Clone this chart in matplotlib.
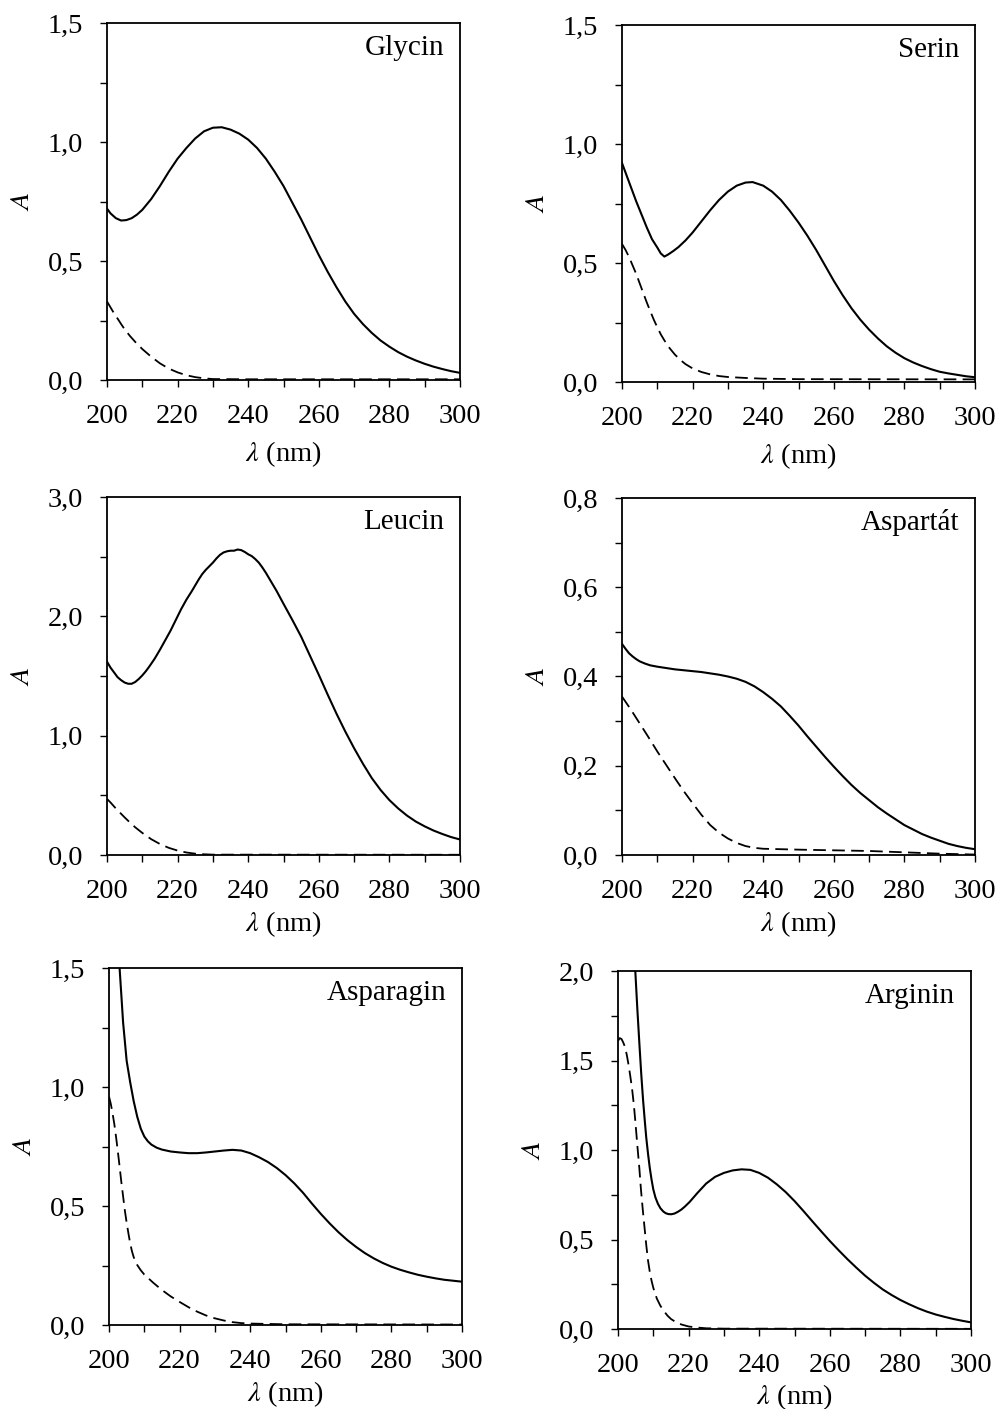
import numpy as np
import matplotlib
matplotlib.use("Agg")
import matplotlib.pyplot as plt
from matplotlib.ticker import MultipleLocator, FuncFormatter

plt.rcParams['font.family'] = ['Liberation Serif', 'DejaVu Serif']
plt.rcParams['mathtext.fontset'] = 'stix'

# --- data (wavelength nm, absorbance) ---
gly_x = [200, 201, 202.5, 204, 205.5, 207, 208.5, 210, 212.5, 215, 217.5, 220, 222.5, 225, 227.5, 230, 232.5,
         235, 237.5, 240, 242.5, 245, 247.5, 250, 252.5, 255, 257.5, 260, 262.5, 265, 267.5, 270, 272.5,
         275, 277.5, 280, 282.5, 285, 287.5, 290, 292.5, 295, 297.5, 300]
gly_y = [0.72, 0.70, 0.68, 0.67, 0.672, 0.68, 0.695, 0.715, 0.76, 0.815, 0.875, 0.93, 0.975, 1.015, 1.045,
         1.06, 1.062, 1.052, 1.035, 1.01, 0.975, 0.93, 0.875, 0.815, 0.745, 0.675, 0.6, 0.525, 0.455, 0.39,
         0.33, 0.278, 0.235, 0.198, 0.166, 0.14, 0.117, 0.098, 0.082, 0.068, 0.056, 0.046, 0.037, 0.03]
gly_ref_x = [200, 201, 202, 203, 204, 205, 206.5, 208, 210, 212.5, 215, 217.5, 220, 222.5, 225, 227.5, 230,
             240, 300]
gly_ref_y = [0.33, 0.305, 0.28, 0.258, 0.235, 0.213, 0.185, 0.16, 0.13, 0.098, 0.07, 0.048, 0.032, 0.02,
             0.012, 0.007, 0.004, 0.003, 0.003]

ser_x = [200, 201, 202.5, 204, 205.5, 207, 208.5, 210, 211, 212, 213, 214.5, 216, 218, 220, 222.5, 225,
         227.5, 230, 232.5, 235, 237, 240, 242.5, 245, 247.5, 250, 252.5, 255, 257.5, 260, 262.5, 265, 267.5,
         270, 272.5, 275, 277.5, 280, 282.5, 285, 287.5, 290, 292.5, 295, 297.5, 300]
ser_y = [0.92, 0.88, 0.82, 0.76, 0.705, 0.65, 0.60, 0.565, 0.54, 0.527, 0.535, 0.55, 0.567, 0.595, 0.628,
         0.675, 0.722, 0.765, 0.80, 0.825, 0.838, 0.84, 0.825, 0.80, 0.765, 0.72, 0.67, 0.615, 0.555, 0.49,
         0.425, 0.365, 0.31, 0.262, 0.22, 0.183, 0.15, 0.123, 0.10, 0.082, 0.067, 0.054, 0.043, 0.036, 0.03,
         0.024, 0.02]
ser_ref_x = [200, 201, 202, 203, 204, 205, 206, 207, 208, 209, 210, 211, 212, 213.5, 215, 216.5, 218, 220,
             222.5, 225, 227.5, 230, 235, 240, 250, 300]
ser_ref_y = [0.58, 0.555, 0.525, 0.49, 0.455, 0.415, 0.375, 0.335, 0.298, 0.262, 0.23, 0.2, 0.175, 0.142,
             0.115, 0.093, 0.075, 0.057, 0.042, 0.032, 0.025, 0.021, 0.017, 0.014, 0.012, 0.011]

leu_x = [200, 201, 202, 203, 204, 205, 206, 207, 208, 209, 210, 211, 212, 213.5, 215, 216.5, 218, 219.5,
         221, 222.5, 224, 225, 226, 227, 228, 229, 230, 231, 232, 233, 234, 235, 236, 237, 238, 239, 240,
         241, 242, 243, 244, 245, 246, 247, 248, 249, 250, 252.5, 255, 257.5, 260, 262.5, 265, 267.5, 270,
         272.5, 275, 277.5, 280, 282.5, 285, 287.5, 290, 292.5, 295, 297.5, 300]
leu_y = [1.62, 1.57, 1.53, 1.49, 1.465, 1.445, 1.435, 1.435, 1.45, 1.475, 1.505, 1.54, 1.58, 1.645, 1.72,
         1.80, 1.88, 1.97, 2.06, 2.14, 2.21, 2.26, 2.31, 2.355, 2.39, 2.42, 2.45, 2.485, 2.515, 2.535, 2.545,
         2.55, 2.55, 2.56, 2.555, 2.54, 2.52, 2.505, 2.48, 2.45, 2.41, 2.365, 2.315, 2.265, 2.215, 2.16, 2.105,
         1.97, 1.83, 1.67, 1.51, 1.345, 1.185, 1.035, 0.895, 0.765, 0.645, 0.545, 0.46, 0.39, 0.33, 0.28,
         0.24, 0.205, 0.176, 0.15, 0.13]
leu_ref_x = [200, 201, 202.5, 204, 205, 206.5, 208, 210, 212.5, 215, 217.5, 220, 222.5, 225, 227.5, 230, 300]
leu_ref_y = [0.47, 0.44, 0.39, 0.345, 0.315, 0.272, 0.232, 0.185, 0.133, 0.092, 0.06, 0.037, 0.021, 0.011,
             0.006, 0.003, 0.002]

asp_x = [200, 201, 202, 203, 204, 205, 206.5, 208, 210, 212.5, 215, 217.5, 220, 222.5, 225, 227.5, 230,
         232.5, 235, 237.5, 240, 242.5, 245, 247.5, 250, 252.5, 255, 257.5, 260, 262.5, 265, 267.5, 270,
         272.5, 275, 277.5, 280, 282.5, 285, 287.5, 290, 292.5, 295, 297.5, 300]
asp_y = [0.473, 0.462, 0.452, 0.445, 0.439, 0.434, 0.429, 0.425, 0.422, 0.419, 0.416, 0.414, 0.412, 0.41,
         0.407, 0.404, 0.400, 0.395, 0.388, 0.378, 0.365, 0.35, 0.333, 0.312, 0.29, 0.266, 0.243, 0.22,
         0.198, 0.177, 0.157, 0.139, 0.123, 0.107, 0.093, 0.08, 0.067, 0.057, 0.047, 0.039, 0.032, 0.025,
         0.02, 0.016, 0.013]
asp_ref_x = [200, 202.5, 205, 207.5, 210, 212.5, 215, 217.5, 220, 222.5, 225, 227.5, 230, 232.5, 235, 237.5,
             240, 250, 260, 270, 280, 290, 300]
asp_ref_y = [0.355, 0.326, 0.295, 0.264, 0.232, 0.202, 0.172, 0.143, 0.116, 0.09, 0.067, 0.05, 0.037, 0.027,
             0.02, 0.016, 0.014, 0.012, 0.0105, 0.009, 0.006, 0.003, 0.001]

asn_x = [200, 202, 203, 204, 205, 206, 207, 208, 209, 210, 211, 212, 213.5, 215, 217.5, 220, 222.5, 225,
         227.5, 230, 232.5, 235, 237.5, 240, 242.5, 245, 247.5, 250, 252.5, 255, 257.5, 260, 262.5, 265,
         267.5, 270, 272.5, 275, 277.5, 280, 282.5, 285, 287.5, 290, 292.5, 295, 297.5, 300]
asn_y = [3.0, 2.0, 1.5, 1.27, 1.11, 1.02, 0.94, 0.875, 0.825, 0.792, 0.772, 0.758, 0.745, 0.737, 0.729,
         0.725, 0.722, 0.722, 0.725, 0.729, 0.733, 0.736, 0.733, 0.722, 0.705, 0.685, 0.66, 0.63, 0.595,
         0.555, 0.51, 0.467, 0.427, 0.39, 0.357, 0.328, 0.302, 0.28, 0.261, 0.245, 0.232, 0.221, 0.211,
         0.203, 0.196, 0.19, 0.186, 0.182]
asn_ref_x = [200, 200.5, 201, 201.5, 202, 202.5, 203, 203.5, 204, 204.5, 205, 205.5, 206, 206.5, 207, 207.5,
             208, 209, 210, 212.5, 215, 217.5, 220, 222.5, 225, 227.5, 230, 232.5, 235, 237.5, 240, 250, 300]
asn_ref_y = [0.96, 0.93, 0.89, 0.845, 0.79, 0.73, 0.666, 0.60, 0.54, 0.48, 0.43, 0.385, 0.343, 0.31, 0.285,
             0.267, 0.252, 0.23, 0.212, 0.178, 0.147, 0.12, 0.097, 0.075, 0.056, 0.04, 0.028, 0.019, 0.012,
             0.008, 0.006, 0.003, 0.002]

arg_x = [203.5, 204.9, 205.5, 206.1, 206.6, 207.1, 207.6, 208.0, 208.5, 209, 209.5, 210, 210.6, 211.3, 212,
         212.8, 213.5, 214.3, 215.1, 216, 217, 218, 219, 220.3, 222.5, 225, 227.5, 230, 232.5, 235, 237.5,
         240, 242.5, 245, 247.5, 250, 252.5, 255, 257.5, 260, 262.5, 265, 267.5, 270, 272.5, 275, 277.5, 280,
         282.5, 285, 287.5, 290, 292.5, 295, 297.5, 300]
arg_y = [2.6, 2.0, 1.78, 1.58, 1.42, 1.28, 1.16, 1.07, 0.98, 0.9, 0.835, 0.78, 0.735, 0.70, 0.675, 0.657,
         0.647, 0.642, 0.641, 0.645, 0.655, 0.668, 0.685, 0.71, 0.76, 0.813, 0.85, 0.872, 0.886, 0.892,
         0.889, 0.872, 0.845, 0.808, 0.765, 0.715, 0.66, 0.603, 0.547, 0.492, 0.44, 0.39, 0.343, 0.298,
         0.258, 0.221, 0.19, 0.162, 0.138, 0.116, 0.097, 0.081, 0.068, 0.056, 0.046, 0.037]
arg_ref_x = [200, 200.5, 201, 201.5, 202, 202.5, 203, 203.5, 204, 204.5, 205, 205.5, 206, 206.5, 207, 207.5,
             208, 208.5, 209, 209.5, 210, 211, 212, 213, 214, 215, 216.5, 218, 220, 222.5, 225, 230, 300]
arg_ref_y = [1.61, 1.625, 1.62, 1.60, 1.575, 1.53, 1.475, 1.41, 1.34, 1.25, 1.14, 1.02, 0.91, 0.78, 0.67,
             0.57, 0.47, 0.383, 0.32, 0.27, 0.23, 0.17, 0.13, 0.1, 0.075, 0.056, 0.037, 0.025, 0.014, 0.008,
             0.004, 0.002, 0.001]

names = ['Glycin', 'Serin', 'Leucin', 'Aspartát', 'Asparagin', 'Arginin']
series = [(gly_x, gly_y, gly_ref_x, gly_ref_y), (ser_x, ser_y, ser_ref_x, ser_ref_y),
          (leu_x, leu_y, leu_ref_x, leu_ref_y), (asp_x, asp_y, asp_ref_x, asp_ref_y),
          (asn_x, asn_y, asn_ref_x, asn_ref_y), (arg_x, arg_y, arg_ref_x, arg_ref_y)]
ymax = [1.5, 1.5, 3.0, 0.8, 1.5, 2.0]
ymajor = [0.5, 0.5, 1.0, 0.2, 0.5, 0.5]

# axes boxes in pixels: left, top, right, bottom
boxes = [(107, 23, 460, 380), (622, 25, 975, 382), (107, 497, 460, 855),
         (622, 498, 975, 855), (109, 968, 462, 1325), (618, 971, 971, 1329)]
xlabel_pad = [8, 8, 4, 4, 4, 3]

W, H = 1000, 1409
fig = plt.figure(figsize=(W / 100, H / 100), dpi=100)
comma = FuncFormatter(lambda v, p: f"{v:.1f}".replace('.', ','))

for i, name in enumerate(names):
    l, t, r, b = boxes[i]
    ax = fig.add_axes([l / W, 1 - b / H, (r - l) / W, (b - t) / H])
    x, y, xr, yr = series[i]
    ax.plot(x, y, color='black', lw=1.5)
    ax.plot(xr, yr, color='black', lw=1.3, linestyle=(0, (7, 3.5)))
    ax.set_xlim(200, 300)
    ax.set_ylim(0, ymax[i])
    ax.xaxis.set_major_locator(MultipleLocator(20))
    ax.xaxis.set_minor_locator(MultipleLocator(10))
    ax.yaxis.set_major_locator(MultipleLocator(ymajor[i]))
    ax.yaxis.set_minor_locator(MultipleLocator(ymajor[i] / 2))
    ax.yaxis.set_major_formatter(comma)
    ax.tick_params(which='both', direction='out', length=5, width=1, top=False, right=False)
    ax.tick_params(axis='x', which='major', labelsize=20.5, pad=12)
    ax.tick_params(axis='y', which='major', labelsize=20.5, pad=12)
    for s in ax.spines.values():
        s.set_linewidth(1.3)
    ax.set_xlabel(r'$\lambda$ (nm)', fontsize=20.5, labelpad=xlabel_pad[i])
    ax.set_ylabel(r'$A$', fontsize=20.5, labelpad=9)
    ax.text(0.955, 0.93, name, transform=ax.transAxes, ha='right', va='center', fontsize=21)

fig.savefig('out.png', dpi=100)
